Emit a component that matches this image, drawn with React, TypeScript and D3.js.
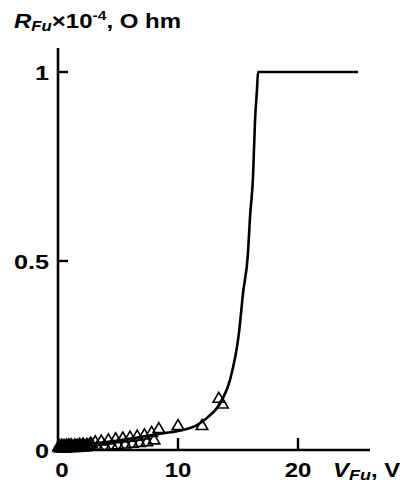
import React from "react";
import * as d3 from "d3";

const curveX = [0, 1.25, 4.08, 6.83, 8.92, 9.58, 10.42, 11.58, 12.42, 13.67, 14.33, 15.08, 15.42, 15.83, 16.0, 16.25, 16.42, 16.58, 16.67, 25];
const curveY = [0.01, 0.013, 0.021, 0.034, 0.045, 0.048, 0.053, 0.066, 0.085, 0.132, 0.185, 0.31, 0.415, 0.521, 0.616, 0.722, 0.873, 0.952, 1.0, 1.0];

const triX = [0.05, 0.1, 0.15, 0.2, 0.25, 0.3, 0.35, 0.4, 0.45, 0.5, 0.55, 0.6, 0.65, 0.7, 0.75, 0.8, 0.85, 0.9, 0.95, 1.0, 1.05, 1.1, 1.15, 1.2, 1.3, 1.4, 1.45, 1.5, 1.6, 1.7, 1.75, 1.8, 1.9, 2.0, 2.05, 2.1, 2.2, 2.3, 2.4, 2.5, 2.6, 2.7, 2.8, 3.1, 3.6, 4.2, 4.8, 5.4, 6.0, 6.6, 7.2, 7.8, 8.4, 3.3, 3.9, 4.5, 5.0, 5.6, 6.2, 6.8, 7.4, 8.0, 10.0, 12.0, 13.4, 13.7];
const triY = [0.006, 0.01, 0.008, 0.004, 0.005, 0.011, 0.009, 0.005, 0.006, 0.01, 0.008, 0.004, 0.007, 0.011, 0.01, 0.005, 0.006, 0.012, 0.009, 0.005, 0.008, 0.012, 0.01, 0.005, 0.007, 0.011, 0.009, 0.005, 0.011, 0.006, 0.008, 0.013, 0.01, 0.006, 0.012, 0.014, 0.009, 0.007, 0.013, 0.011, 0.008, 0.016, 0.014, 0.02, 0.022, 0.025, 0.028, 0.03, 0.032, 0.035, 0.038, 0.045, 0.055, 0.008, 0.01, 0.011, 0.012, 0.014, 0.016, 0.018, 0.02, 0.025, 0.063, 0.063, 0.135, 0.12];

const yTicks = [1, 0.5];
const yTickLabels = ["1", "0.5"];
const xTicks = [10, 20];
const xTickLabels = ["0", "10", "20"];
const xLabelPos = [0, 10, 20];

const SX = 1.2;

function Stretch({ x, y, children }: { x: number; y: number; children: React.ReactNode }) {
  return <g transform={`translate(${x},${y}) scale(${SX},1)`}>{children}</g>;
}

export default function App() {
  const W = 400, H = 486;
  const x = d3.scaleLinear().domain([0, 10]).range([58, 178]);
  const y = d3.scaleLinear().domain([0, 1]).range([450, 72]);
  const line = d3.line<number>().x((_, i) => x(curveX[i])).y((_, i) => y(curveY[i])).curve(d3.curveMonotoneX);
  const tri = d3.symbol().type(d3.symbolTriangle).size(58)();
  const font = "'Liberation Sans', Arial, sans-serif";
  return (
    <svg width={W} height={H} style={{ position: "absolute", left: 0, top: 0, background: "#fff" }} fontFamily={font} fontWeight="bold">
      <rect width={W} height={H} fill="#fff" />
      {/* axes */}
      <line x1={x(0)} x2={x(0)} y1={48} y2={y(0) + 1.5} stroke="#000" strokeWidth={2.6} />
      <line x1={x(0) - 1.3} x2={x(26)} y1={y(0)} y2={y(0)} stroke="#000" strokeWidth={2.6} />
      {yTicks.map((t) => (
        <line key={"yt" + t} x1={x(0)} x2={x(0) + 10} y1={y(t)} y2={y(t)} stroke="#000" strokeWidth={2.4} />
      ))}
      {xTicks.map((t) => (
        <line key={"xt" + t} x1={x(t)} x2={x(t)} y1={y(0)} y2={y(0) - 12} stroke="#000" strokeWidth={2.4} />
      ))}
      {yTicks.map((t, i) => (
        <Stretch key={"yl" + t} x={x(0) - 9} y={y(t)}>
          <text dy="0.36em" textAnchor="end" fontSize={21}>{yTickLabels[i]}</text>
        </Stretch>
      ))}
      <Stretch x={x(0) - 9} y={y(0)}>
        <text dy="0.36em" textAnchor="end" fontSize={21}>0</text>
      </Stretch>
      {xLabelPos.map((t, i) => (
        <Stretch key={"xl" + t} x={x(t) + (t === 0 ? 4 : 0)} y={477}>
          <text textAnchor="middle" fontSize={20}>{xTickLabels[i]}</text>
        </Stretch>
      ))}
      <Stretch x={333} y={477}>
        <text fontSize={20}>
          <tspan fontStyle="italic">V</tspan>
          <tspan fontStyle="italic" fontSize={15} dy={3}>Fu</tspan>
          <tspan dy={-3}>, V</tspan>
        </text>
      </Stretch>
      <Stretch x={14} y={28}>
        <text fontSize={20}>
          <tspan fontStyle="italic">R</tspan>
          <tspan fontStyle="italic" fontSize={14} dy={3}>Fu</tspan>
          <tspan dy={-3}>×10</tspan>
          <tspan fontSize={13} dy={-8}>-4</tspan>
          <tspan dy={8}>, O hm</tspan>
        </text>
      </Stretch>
      {/* curve */}
      <path d={line(curveX) || ""} fill="none" stroke="#000" strokeWidth={2.6} />
      {/* triangles */}
      {triX.map((v, i) => (
        <path key={"tr" + i} d={tri || ""} transform={`translate(${x(v)},${y(triY[i])})`} fill="none" stroke="#000" strokeWidth={1.6} />
      ))}
    </svg>
  );
}
